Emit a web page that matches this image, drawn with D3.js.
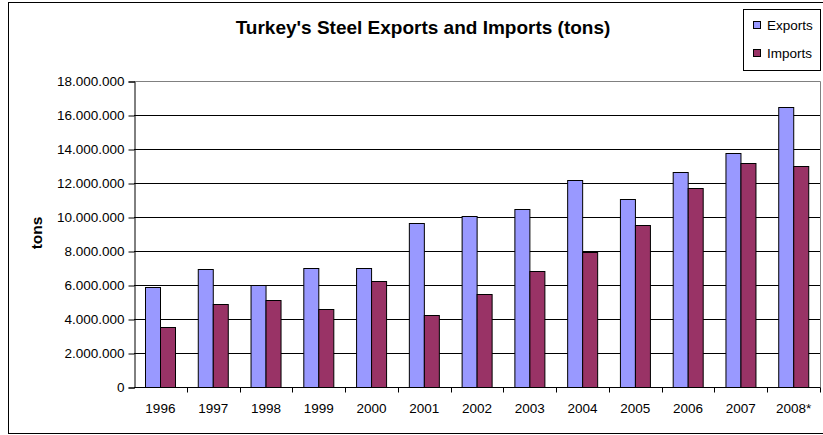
<!DOCTYPE html>
<html>
<head>
<meta charset="utf-8">
<script src="https://cdn.jsdelivr.net/npm/d3@7/dist/d3.min.js"></script>
<style>
  html, body { margin: 0; padding: 0; background: #fff; }
  svg { display: block; font-family: "Liberation Sans", Arial, sans-serif; }
</style>
</head>
<body>
<svg id="chart" width="823" height="435"></svg>
<script>
// Turkey's steel trade, tons per year
const years = ["1996", "1997", "1998", "1999", "2000", "2001", "2002", "2003", "2004", "2005", "2006", "2007", "2008*"];
const exportsTons = [5900000, 6920000, 6020000, 7000000, 7000000, 9630000, 10080000, 10450000, 12200000, 11060000, 12630000, 13760000, 16450000];
const importsTons = [3530000, 4880000, 5100000, 4590000, 6240000, 4220000, 5490000, 6840000, 7960000, 9550000, 11730000, 13160000, 13020000];
const yTicks = [0, 2000000, 4000000, 6000000, 8000000, 10000000, 12000000, 14000000, 16000000, 18000000];
const seriesNames = ["Exports", "Imports"];
const seriesColors = ["#9999FF", "#993366"];

const svg = d3.select("#chart");
const plot = { left: 134, right: 820, top: 81, bottom: 387 };

// outer chart frame
svg.append("rect")
  .attr("x", 8.5).attr("y", 2.5).attr("width", 830).attr("height", 431)
  .attr("fill", "#fff").attr("stroke", "#000").attr("stroke-width", 1);

const x = d3.scaleBand().domain(years).range([plot.left, plot.right]).paddingInner(0).paddingOuter(0);
// two bars per category, gap of 150% of one bar width
const barW = x.bandwidth() / 3.5;
const xs = d3.scaleBand().domain(seriesNames).range([barW * 0.75, barW * 2.75]);
const y = d3.scaleLinear().domain([0, 18000000]).range([plot.bottom, plot.top]);

const fmt = v => d3.format(",")(v).replace(/,/g, ".");

// horizontal gridlines
svg.append("g").selectAll("line")
  .data(yTicks.filter(t => t > 0 && t < 18000000))
  .join("line")
  .attr("x1", plot.left).attr("x2", plot.right)
  .attr("y1", d => Math.round(y(d)) + 0.5).attr("y2", d => Math.round(y(d)) + 0.5)
  .attr("stroke", "#000").attr("stroke-width", 1);

// plot area border (top/right)
svg.append("path")
  .attr("d", `M${plot.left},${plot.top + 0.5}H${plot.right + 0.5}V${plot.bottom}`)
  .attr("fill", "none").attr("stroke", "#808080").attr("stroke-width", 1);

// bars
const rows = years.map((yr, i) => ({ year: yr, values: [exportsTons[i], importsTons[i]] }));
const groups = svg.append("g").selectAll("g")
  .data(rows).join("g")
  .attr("transform", d => `translate(${x(d.year)},0)`);
groups.selectAll("rect")
  .data(d => d.values.map((v, k) => ({ name: seriesNames[k], v, k })))
  .join("rect")
  .attr("x", d => Math.round(xs(d.name)) + 0.5)
  .attr("y", d => Math.round(y(d.v)) + 0.5)
  .attr("width", Math.round(xs.bandwidth()))
  .attr("height", d => Math.round(y(0)) - Math.round(y(d.v)))
  .attr("fill", d => seriesColors[d.k])
  .attr("stroke", "#000").attr("stroke-width", 1);

// y axis
const yAxis = svg.append("g")
  .attr("transform", `translate(${plot.left + 0.5},0.5)`)
  .call(d3.axisLeft(y).tickValues(yTicks).tickFormat(fmt).tickSizeOuter(0).tickSize(6).tickPadding(4));
yAxis.select(".domain").attr("stroke", "#000");
yAxis.selectAll(".tick line").attr("stroke", "#000");
yAxis.selectAll("text").attr("font-size", 13.5).attr("fill", "#000")
  .attr("font-family", "Liberation Sans, Arial, sans-serif");

// x axis with ticks at category boundaries
const xAxisG = svg.append("g").attr("transform", `translate(0,${plot.bottom + 0.5})`);
xAxisG.append("line")
  .attr("x1", plot.left).attr("x2", plot.right + 0.5)
  .attr("stroke", "#000");
xAxisG.selectAll("line.tk")
  .data(years.slice(1).concat(["end"]))
  .join("line").attr("class", "tk")
  .attr("x1", (d, i) => Math.round(plot.left + x.bandwidth() * (i + 1)) + 0.5)
  .attr("x2", (d, i) => Math.round(plot.left + x.bandwidth() * (i + 1)) + 0.5)
  .attr("y1", 0).attr("y2", 5)
  .attr("stroke", "#000");
xAxisG.selectAll("text")
  .data(years).join("text")
  .attr("x", d => x(d) + x.bandwidth() / 2)
  .attr("y", 25)
  .attr("text-anchor", "middle")
  .attr("font-size", 13.5)
  .text(d => d);

// title
svg.append("text")
  .attr("x", 423).attr("y", 34)
  .attr("text-anchor", "middle")
  .attr("font-size", 19).attr("font-weight", "bold")
  .text("Turkey's Steel Exports and Imports (tons)");

// y axis label
svg.append("text")
  .attr("transform", "translate(42,233) rotate(-90)")
  .attr("text-anchor", "middle")
  .attr("font-size", 15.5).attr("font-weight", "bold")
  .text("tons");

// legend
const legend = svg.append("g");
legend.append("rect")
  .attr("x", 743.5).attr("y", 9.5).attr("width", 77).attr("height", 61)
  .attr("fill", "#fff").attr("stroke", "#000");
seriesNames.forEach((name, k) => {
  const cy = 25 + k * 28;
  legend.append("rect")
    .attr("x", 753.5).attr("y", cy - 3.5).attr("width", 7).attr("height", 7)
    .attr("fill", seriesColors[k]).attr("stroke", "#000");
  legend.append("text")
    .attr("x", 767).attr("y", cy + 4.5)
    .attr("font-size", 13.5)
    .text(name);
});
</script>
</body>
</html>
